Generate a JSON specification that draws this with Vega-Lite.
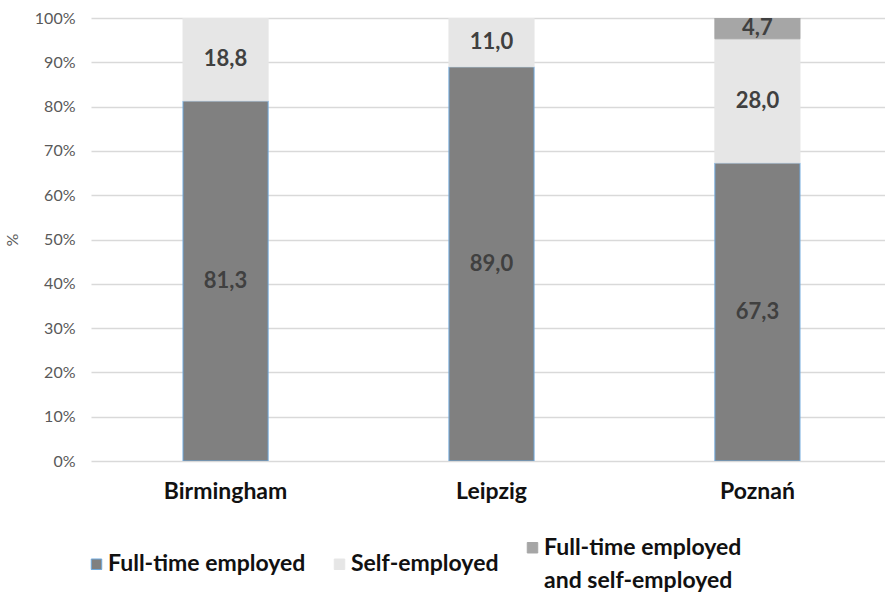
{
  "$schema": "https://vega.github.io/schema/vega-lite/v6.json",
  "autosize": {"type": "none"},
  "padding": {"left": 91, "top": 18, "right": 0, "bottom": 134},
  "width": 794,
  "height": 443,
  "background": "white",
  "config": {
    "locale": {"number": {"decimal": ",", "thousands": ".", "grouping": [3], "currency": ["", " €"]}},
    "font": "Lato",
    "view": {"stroke": null},
    "style": {"guide-label": {"lineHeight": 33}}
  },
  "data": {
    "values": [
      {"city": "Birmingham", "status": "Full-time employed", "k": 1, "pct": 81.3},
      {"city": "Birmingham", "status": "Self-employed", "k": 2, "pct": 18.8},
      {"city": "Leipzig", "status": "Full-time employed", "k": 1, "pct": 89.0},
      {"city": "Leipzig", "status": "Self-employed", "k": 2, "pct": 11.0},
      {"city": "Poznań", "status": "Full-time employed", "k": 1, "pct": 67.3},
      {"city": "Poznań", "status": "Self-employed", "k": 2, "pct": 28.0},
      {"city": "Poznań", "status": "Full-time employed and self-employed", "k": 3, "pct": 4.7}
    ]
  },
  "transform": [
    {"stack": "pct", "groupby": ["city"], "sort": [{"field": "k"}], "as": ["v0", "v1"]},
    {"calculate": "(datum.v0 + datum.v1) / 2", "as": "mid"}
  ],
  "encoding": {
    "x": {
      "field": "city",
      "type": "nominal",
      "sort": ["Birmingham", "Leipzig", "Poznań"],
      "scale": {"range": [0, 801], "paddingInner": 0.68, "paddingOuter": 0.346},
      "axis": {
        "title": null,
        "labelAngle": 0,
        "labelFont": "Lato",
        "labelFontSize": 23,
        "labelFontWeight": "bold",
        "labelColor": "#111111",
        "labelPadding": 19,
        "ticks": false,
        "domain": false,
        "grid": false
      }
    }
  },
  "layer": [
    {
      "mark": {"type": "bar", "strokeWidth": 1, "clip": true},
      "encoding": {
        "y": {
          "field": "v1",
          "type": "quantitative",
          "scale": {"domain": [0, 100], "nice": false},
          "axis": {
            "title": "%",
            "titleFont": "Lato",
            "titleFontSize": 16,
            "titleFontWeight": "normal",
            "titleColor": "#595959",
            "titlePadding": 14,
            "values": [0, 10, 20, 30, 40, 50, 60, 70, 80, 90, 100],
            "labelExpr": "datum.value + '%'",
            "labelFont": "Lato",
            "labelFontSize": 16,
            "labelColor": "#595959",
            "labelPadding": 16,
            "ticks": false,
            "domain": false,
            "grid": true,
            "gridColor": "#D9D9D9",
            "gridWidth": 1.5
          }
        },
        "y2": {"field": "v0"},
        "fill": {
          "field": "status",
          "type": "nominal",
          "scale": {
            "domain": ["Full-time employed", "Self-employed", "Full-time employed and self-employed"],
            "range": ["#808080", "#E6E6E6", "#A6A6A6"]
          },
          "legend": {
            "title": null,
            "orient": "none",
            "direction": "horizontal",
            "legendX": -6,
            "legendY": 518,
            "symbolType": "square",
            "symbolSize": 110,
            "symbolStrokeWidth": 1,
            "labelFont": "Lato",
            "labelFontSize": 23,
            "labelFontWeight": "bold",
            "labelColor": "#111111",
            "labelOffset": 0,
            "labelLimit": 300,
            "columnPadding": 22,
            "labelExpr": "datum.label == 'Full-time employed and self-employed' ? ['Full-time employed', 'and self-employed'] : datum.label"
          }
        },
        "stroke": {
          "field": "status",
          "type": "nominal",
          "scale": {
            "domain": ["Full-time employed", "Self-employed", "Full-time employed and self-employed"],
            "range": ["#6FA8DC", "#E6E6E6", "#A6A6A6"]
          },
          "legend": null
        },
        "order": {"field": "k", "type": "quantitative"}
      }
    },
    {
      "mark": {"type": "text", "font": "Lato", "fontSize": 22, "fontWeight": "bold", "color": "#404040", "baseline": "middle"},
      "encoding": {
        "y": {"field": "mid", "type": "quantitative"},
        "text": {"field": "pct", "type": "quantitative", "format": ".1f"}
      }
    }
  ]
}
